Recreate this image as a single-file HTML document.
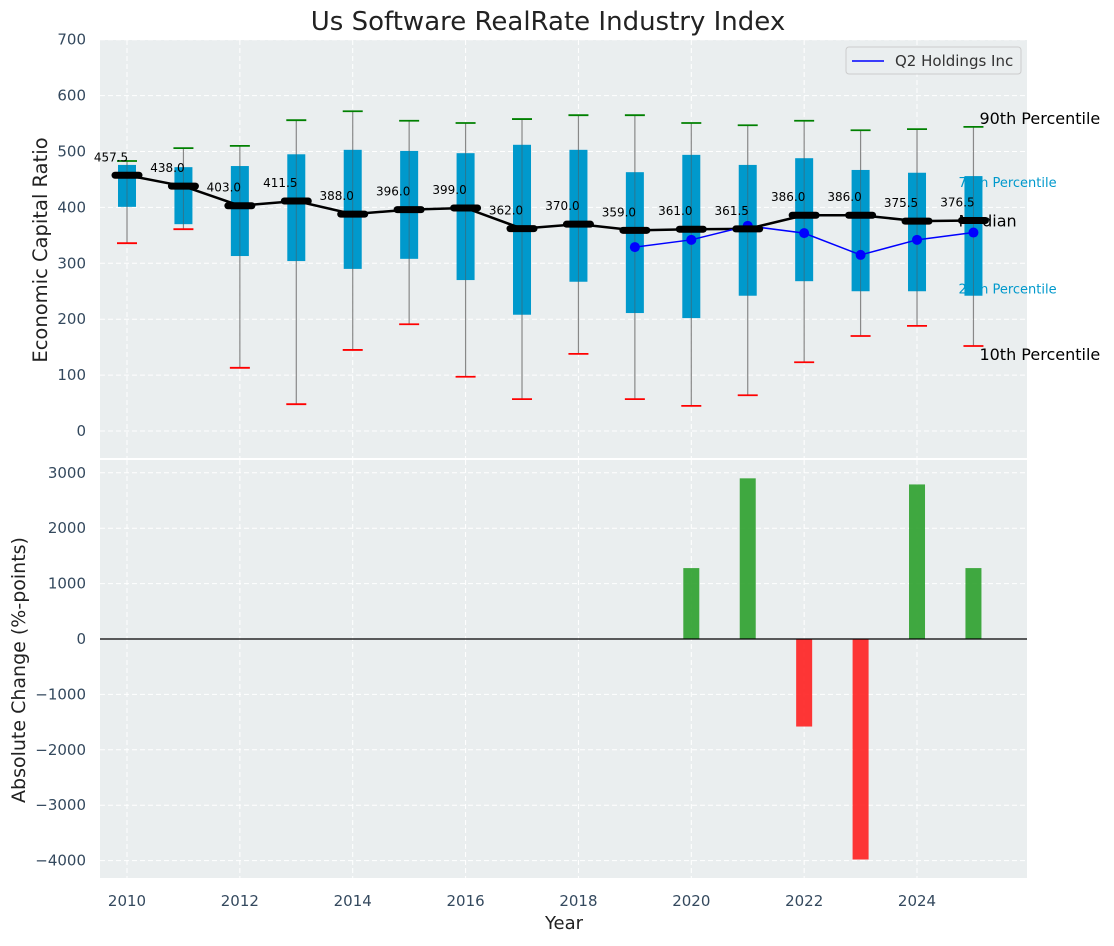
<!DOCTYPE html>
<html><head><meta charset="utf-8"><style>
body{margin:0;background:#fff;font-family:"DejaVu Sans","Liberation Sans",sans-serif}
svg text{font-family:"DejaVu Sans","Liberation Sans",sans-serif}
</style></head><body>
<svg id="c" width="1114" height="942" xmlns="http://www.w3.org/2000/svg"></svg>
<script>
const years=[2010,2011,2012,2013,2014,2015,2016,2017,2018,2019,2020,2021,2022,2023,2024,2025];
const p90=[483,506,510,556,572,555,551,558,565,565,551,547,555,538,540,544];
const p75=[476,472,474,495,503,501,497,512,503,463,494,476,488,467,462,456];
const median=[457.5,438,403,411.5,388,396,399,362,370,359,361,361.5,386,386,375.5,376.5];
const p25=[401,370,313,304,290,308,270,208,267,211,202,242,268,250,250,242];
const p10=[336,361,113,48,145,191,97,57,138,57,45,64,123,170,188,152];
const q2Years=[2019,2020,2021,2022,2023,2024,2025];
const q2Values=[329,342,367,354,315,342,355];
const changeYears=[2020,2021,2022,2023,2024,2025];
const changeValues=[1280,2900,-1580,-3980,2790,1280];
const topTicks=[0,100,200,300,400,500,600,700];
const botTicks=[-4000,-3000,-2000,-1000,0,1000,2000,3000];
const xTicks=[2010,2012,2014,2016,2018,2020,2022,2024];

const svg=document.getElementById('c');const NS='http://www.w3.org/2000/svg';
function el(t,a,p){const e=document.createElementNS(NS,t);for(const k in a)e.setAttribute(k,a[k]);(p||svg).appendChild(e);return e;}
function tx(s,a,p){const e=el('text',a,p);e.textContent=s;return e;}
const L=100,R=1027,T1=40,B1=458,T2=460,B2=878;
const X=v=>127+(v-2010)*56.43;
const Y1=v=>431-v*0.559;
const Y2=v=>639-v*0.0554;

let g=el('rect',{x:L,y:T1,width:R-L,height:B1-T1,fill:'#eaeeef'});

g=el('rect',{x:L,y:T2,width:R-L,height:B2-T2,fill:'#eaeeef'});

xTicks.forEach(v=>{[[T1,B1],[T2,B2]].forEach(([a,b])=>el('line',{x1:X(v),x2:X(v),y1:a,y2:b,stroke:'#fff','stroke-dasharray':'5,3','stroke-width':1}));
 const t=tx(v,{x:X(v),y:906,'text-anchor':'middle','font-size':15,fill:'#34495e'});
 });
topTicks.forEach(v=>{el('line',{x1:L,x2:R,y1:Y1(v),y2:Y1(v),stroke:'#fff','stroke-dasharray':'5,3'});
 const t=tx(v,{x:86,y:Y1(v)+5,'text-anchor':'end','font-size':15,fill:'#34495e'});
 });
botTicks.forEach(v=>{el('line',{x1:L,x2:R,y1:Y2(v),y2:Y2(v),stroke:'#fff','stroke-dasharray':'5,3'});
 const t=tx(v.toString().replace('-','\u2212'),{x:86,y:Y2(v)+5,'text-anchor':'end','font-size':15,fill:'#34495e'});
 });

const lx=X(2025);
[['90th Percentile',Y1(p90[15])-3,16,'#000',6],['75th Percentile',Y1(p75[15])+11,13,'#0099cc',-15],['Median',Y1(median[15])+6,16,'#000',-15],['25th Percentile',Y1(p25[15])-2,13,'#0099cc',-15],['10th Percentile',Y1(p10[15])+14,16,'#000',6]].forEach(([s,y,f,c,dx])=>{
 const t=tx(s,{x:lx+dx,y:y,'font-size':f,fill:c});});

years.forEach((yr,i)=>{const x=X(yr);
 let e=el('line',{x1:x,x2:x,y1:Y1(p10[i]),y2:Y1(p90[i]),stroke:'#888','stroke-width':1.2});
 
 e=el('rect',{x:x-9,y:Y1(p75[i]),width:18,height:Y1(p25[i])-Y1(p75[i]),fill:'#0099cc'});
 
 el('line',{x1:x,x2:x,y1:Y1(p75[i]),y2:Y1(p25[i]),stroke:'#555','stroke-width':1,opacity:0.5});
 e=el('line',{x1:x-10,x2:x+10,y1:Y1(p90[i]),y2:Y1(p90[i]),stroke:'green','stroke-width':1.8});
 
 e=el('line',{x1:x-10,x2:x+10,y1:Y1(p10[i]),y2:Y1(p10[i]),stroke:'red','stroke-width':1.8});
 
});
let e=el('polyline',{points:years.map((y,i)=>X(y)+','+Y1(median[i])).join(' '),fill:'none',stroke:'#000','stroke-width':2.5});

e=el('polyline',{points:q2Years.map((y,i)=>X(y)+','+Y1(q2Values[i])).join(' '),fill:'none',stroke:'blue','stroke-width':1.5});

q2Years.forEach((y,i)=>{const c=el('circle',{cx:X(y),cy:Y1(q2Values[i]),r:5,fill:'blue'});
 });
years.forEach((yr,i)=>{const x=X(yr),y=Y1(median[i]);
 let m=el('line',{x1:x-12,x2:x+12,y1:y,y2:y,stroke:'#000','stroke-width':7,'stroke-linecap':'round'});
 
 const t=tx(median[i].toFixed(1),{x:x-16,y:y-14,'text-anchor':'middle','font-size':12,fill:'#000'});
 });

changeYears.forEach((yr,i)=>{const v=changeValues[i];const y0=Y2(0),y1=Y2(v);
 const b=el('rect',{x:X(yr)-8,y:Math.min(y0,y1),width:16,height:Math.abs(y1-y0),fill:v>=0?'#2ca02c':'#ff2020',opacity:0.9});
 });
e=el('line',{x1:L,x2:R,y1:Y2(0),y2:Y2(0),stroke:'#000','stroke-width':1.2});


g=el('g',{});
el('rect',{x:846,y:47,width:175,height:27,rx:3,fill:'#eaeeef',stroke:'#ccc'},g);
el('line',{x1:852,x2:884,y1:61,y2:61,stroke:'blue','stroke-width':1.5},g);
tx('Q2 Holdings Inc',{x:895,y:66,'font-size':15,fill:'#333'},g);

let t=tx('Us Software RealRate Industry Index',{x:548,y:30,'text-anchor':'middle','font-size':26,fill:'#222'});

t=tx('Year',{x:564,y:929,'text-anchor':'middle','font-size':18,fill:'#222'});

t=tx('Economic Capital Ratio',{x:0,y:0,'text-anchor':'middle','font-size':19.5,fill:'#222',transform:'translate(47,250) rotate(-90)'});

t=tx('Absolute Change (%-points)',{x:0,y:0,'text-anchor':'middle','font-size':19,fill:'#222',transform:'translate(25,670) rotate(-90)'});

</script></body></html>
